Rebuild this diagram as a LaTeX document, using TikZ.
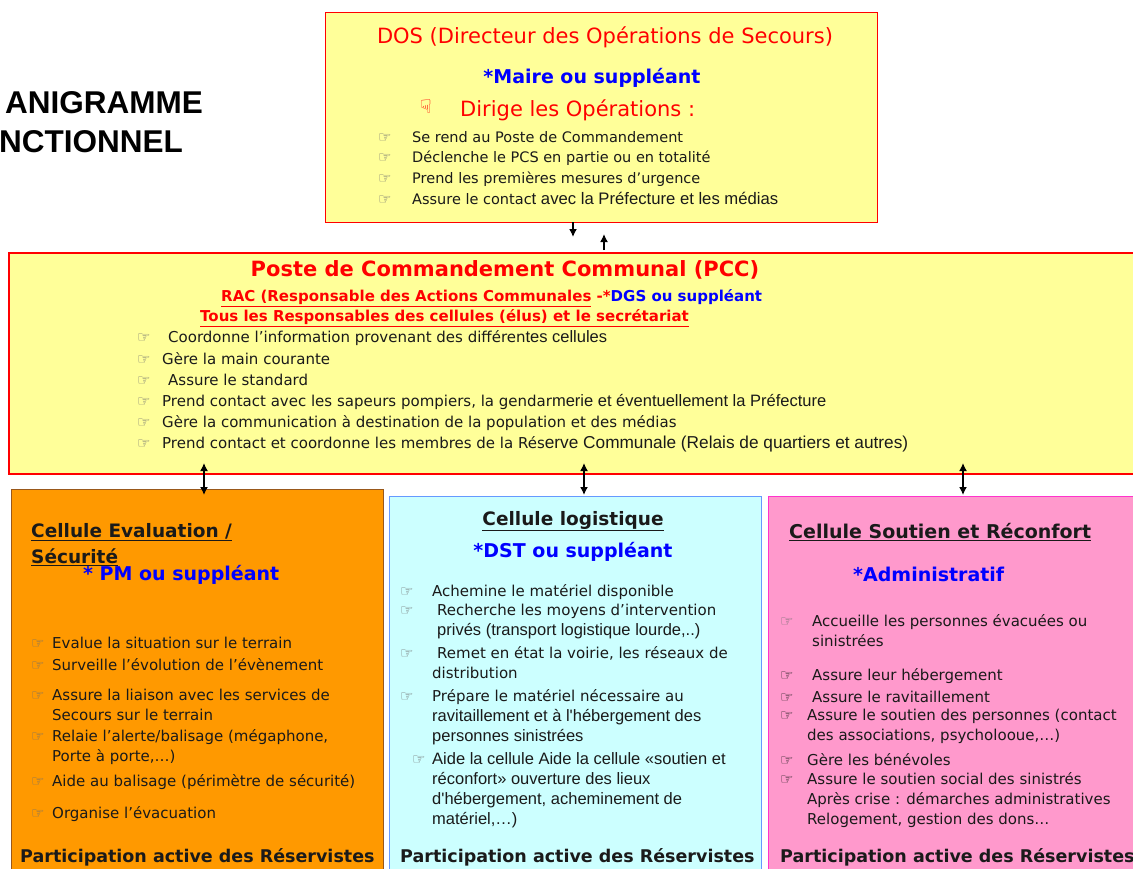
\documentclass[tikz,border=0pt]{standalone}
\usepackage{fontspec}
\setmainfont{DejaVu Sans}
\newfontfamily\arialfont[Scale=1.1]{Liberation Sans}
\newfontfamily\titlefont{Liberation Sans}
\usetikzlibrary{arrows.meta}

\definecolor{boxyellow}{HTML}{FFFF99}
\definecolor{boxred}{HTML}{FF0000}
\definecolor{ink}{HTML}{1A1A1A}
\definecolor{handgray}{HTML}{6E6E6E}
\definecolor{capblue}{HTML}{0000FF}
\definecolor{evalorange}{HTML}{FF9900}
\definecolor{evalline}{HTML}{99581A}
\definecolor{logicyan}{HTML}{CCFFFF}
\definecolor{logiline}{HTML}{6699FF}
\definecolor{soutpink}{HTML}{FF99CC}
\definecolor{soutline}{HTML}{FF33CC}

\newcommand\hnd[2][handgray]{\makebox[#2][l]{\textcolor{#1}{\fontsize{15}{15}\selectfont ☞}}}
\newcommand\ar[1]{{\arialfont #1}}

\begin{document}
\begin{tikzpicture}[x=1pt, y=-1pt,
	box/.style={draw, inner sep=0pt, outer sep=0pt, anchor=north west},
	head/.style={inner sep=0pt, font=\fontsize{#1}{#1}\selectfont},
	boldhead/.style={inner sep=0pt, font=\bfseries\fontsize{#1}{#1}\selectfont},
	item/.style={anchor=north west, inner sep=0pt, align=left, text=ink,
		font=\fontsize{15}{20}\selectfont, execute at begin node=\strut},
	dositem/.style={item, font=\fontsize{14.5}{21}\selectfont},
	part/.style={anchor=west, inner sep=0pt, text=ink, font=\bfseries\fontsize{17.5}{17.5}\selectfont},
	arr/.style={-{Latex[length=8pt,width=8pt]}, line width=1.5pt},
	darr/.style={{Latex[length=8pt,width=8pt]}-{Latex[length=8pt,width=8pt]}, line width=1.5pt}]
	\useasboundingbox (0,0) rectangle (1133,868);
	\clip (0,0) rectangle (1133,868);

	% title, cut at the left edge
	\node[inner sep=0pt, font=\titlefont\bfseries\fontsize{31.5}{31.5}\selectfont, anchor=base west] (orga) at (5,113) {ANIGRAMME};
	\node[inner sep=0pt, font=\titlefont\bfseries\fontsize{31.5}{31.5}\selectfont, anchor=base west] (fonc) at (-1,152) {NCTIONNEL};

	% boxes
	\node[box, fill=boxyellow, draw=boxred, line width=1pt, minimum width=552, minimum height=210] (dos) at (325,12) {};
	\node[box, fill=boxyellow, draw=boxred, line width=2.5pt, minimum width=1140, minimum height=221] (pcc) at (9,253) {};
	\node[box, fill=evalorange, draw=evalline, line width=1pt, minimum width=372, minimum height=400] (eval) at (11,489) {};
	\node[box, fill=logicyan, draw=logiline, line width=1pt, minimum width=372, minimum height=400] (logi) at (389,496) {};
	\node[box, fill=soutpink, draw=soutline, line width=1pt, minimum width=372, minimum height=400] (sout) at (768,496) {};

	% DOS
	\node[head=21, text=boxred] (dostitle) at (605,37) {DOS (Directeur des Opérations de Secours)};
	\node[boldhead=19, text=capblue] (dosmaire) at (592,78) {*Maire ou suppléant};
	\node[head=19, text=boxred] (doshand) at (426,107) {☟};
	\node[head=21, text=boxred, anchor=west] (dosdir) at (460,110) {Dirige les Opérations :};
	\foreach \y/\t [count=\i] in {138/{Se rend au Poste de Commandement},
			158/{Déclenche le PCS en partie ou en totalité},
			179/{Prend les premières mesures d'urgence},
			200/{Assure le contac{\arialfont\addfontfeature{Scale=1.15}t avec la Préfecture et les médias}}}
		\node[dositem] (d\i) at (378,\y-10) {\hnd{34pt}\t};

	% PCC
	\node[boldhead=21, text=boxred] (pcctitle) at (505,270) {Poste de Commandement Communal (PCC)};
	\node[boldhead=15, text=boxred, anchor=west] (pccrac) at (221,298)
		{\underline{RAC (Responsable des Actions Communales} -*\textcolor{capblue}{DGS ou suppléant}};
	\node[boldhead=15, text=boxred, anchor=west] (pcctous) at (200,318)
		{\underline{Tous les Responsables des cellules (élus) et le secrétariat}};
	\foreach \y/\t [count=\i] in {337/{\hnd{31pt}Coordonne l'information provenant des différen\ar{tes cellules}},
			359/{\hnd{25pt}Gère la main courante},
			380/{\hnd{31pt}Assure le standard},
			401/{\hnd{25pt}Prend contact avec les sapeurs pompiers, la gendar\ar{merie et éventuellement la Préfecture}},
			422/{\hnd{25pt}Gère la communication à destination de la population et des médias},
			443/{\hnd{25pt}Prend contact et coordonne les membres de la Rés{\arialfont\addfontfeature{Scale=1.15}erve Communale (Relais de quartiers et autres)}}}
		\node[item] (p\i) at (137,\y-9) {\t};

	\draw[arr] ([xshift=-28pt]dos.south) -- ++(0,15);
	\draw[arr] ([xshift=3pt]dos.south) ++(0,28) -- ++(0,-16);
	\draw[darr] ([xshift=7pt]eval.north) ++(0,-26) -- ++(0,32);
	\draw[darr] ([xshift=9pt]logi.north) ++(0,-33) -- ++(0,32);
	\draw[darr] ([xshift=9pt]sout.north) ++(0,-33) -- ++(0,32);

	% Cellule Evaluation / Securite
	\node[boldhead=18.5, text=ink, anchor=west] (evtitle) at (31,532) {\underline{Cellule Evaluation /}};
	\node[boldhead=18.5, text=ink, anchor=west] (evsecu) at (31,557) {\underline{Sécurité}};
	\node[boldhead=19, text=capblue, anchor=west] (evpm) at (83,575) {* PM ou suppléant};
	\foreach \y/\t [count=\i] in {643/{Evalue la situation sur le terrain},
			665/{Surveille l'évolution de l'évènement},
			698/{Assure la liaison avec les services de\\\hspace*{21pt}Secours sur le terrain},
			738/{Relaie l'alerte/balisage (mégaphone,\\\hspace*{21pt}Porte à porte,…)},
			781/{Aide au balisage (périmètre de sécurité)},
			813/{Organise l'évacuation}}
		\node[item] (e\i) at (31,\y-9) {\hnd{21pt}\t};
	\node[part] (epart) at (20,857) {Participation active des Réservistes};

	% Cellule logistique
	\node[boldhead=18.5, text=ink] (lgtitle) at (573,521) {\underline{Cellule logistique}};
	\node[boldhead=19, text=capblue] (lgdst) at (573,552) {*DST ou suppléant};
	\foreach \y/\x/\t [count=\i] in {591/400/{\hnd{32pt}Achemine le matériel disponible},
			613/400/{\hnd{37pt}Recherche les moyens d'intervention\\\hspace*{37pt}\ar{privés (transport logistique lourde,..)}},
			655/400/{\hnd{37pt}Remet en état la voirie, les réseaux de\\\hspace*{32pt}distribution},
			698/400/{\hnd{32pt}Prépare le matériel nécessaire au\\\hspace*{32pt}\ar{ravitaillement et à l'hébergement des}\\\hspace*{32pt}\ar{personnes sinistrées}},
			761/412/{\hnd{20pt}\ar{Aide la cellule Aide la cellule «soutien et}\\\hspace*{20pt}\ar{réconfort» ouverture des lieux}\\\hspace*{20pt}\ar{d'hébergement, acheminement de}\\\hspace*{20pt}\ar{matériel,…)}}}
		\node[item] (l\i) at (\x,\y-9) {\t};
	\node[part] (lpart) at (400,857) {Participation active des Réservistes};

	% Cellule Soutien et Reconfort
	\node[boldhead=19, text=ink, anchor=west] (sttitle) at (789,532) {\underline{Cellule Soutien et Réconfort}};
	\node[boldhead=19, text=capblue, anchor=west] (stadmin) at (853,574) {*Administratif};
	\foreach \y/\t [count=\i] in {623/{\hnd{32pt}Accueille les personnes évacuées ou\\\hspace*{32pt}sinistrées},
			675/{\hnd[ink]{32pt}Assure leur hébergement},
			697/{\hnd[ink]{32pt}Assure le ravitaillement},
			718/{\hnd[ink]{27pt}Assure le soutien des personnes (contact\\\hspace*{27pt}des associations, psycholooue,…)},
			760/{\hnd[ink]{27pt}Gère les bénévoles},
			781/{\hnd[ink]{27pt}Assure le soutien social des sinistrés\\\hspace*{27pt}Après crise : démarches administratives\\\hspace*{27pt}Relogement, gestion des dons…}}
		\node[item] (s\i) at (780,\y-9) {\t};
	\node[part] (spart) at (780,857) {Participation active des Réservistes};
\end{tikzpicture}
\end{document}
